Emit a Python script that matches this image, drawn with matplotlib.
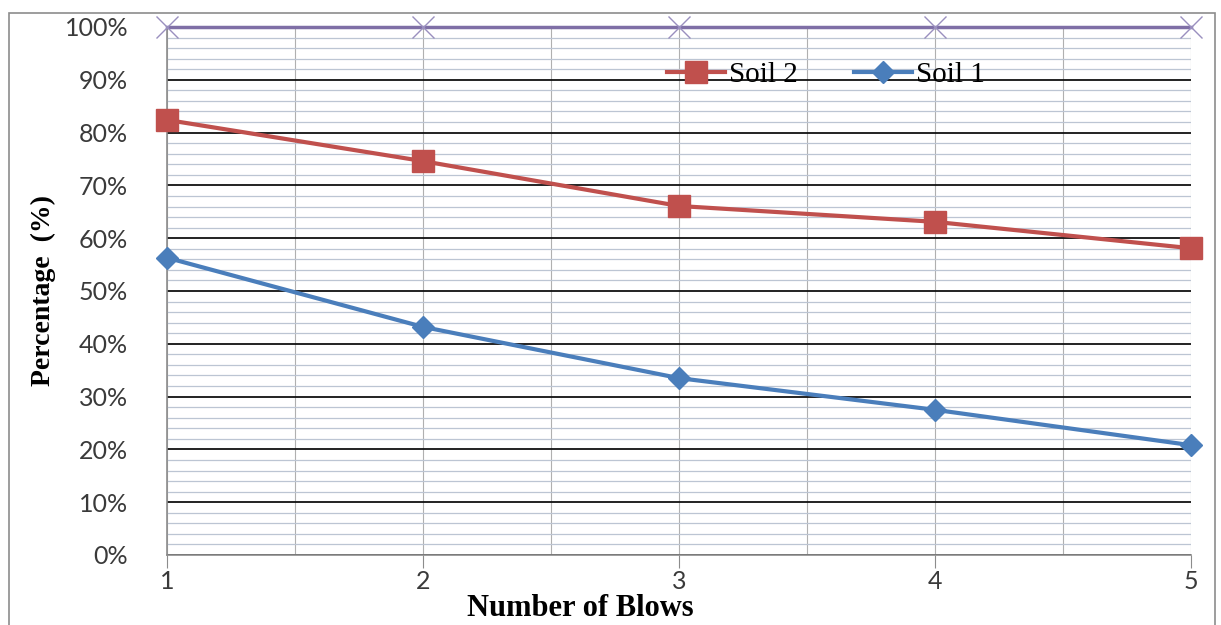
import matplotlib
matplotlib.use("Agg")
import matplotlib.pyplot as plt
from matplotlib.patches import Rectangle
from matplotlib.ticker import MultipleLocator, PercentFormatter

# blows vs percentage for the two soils
blows = [1, 2, 3, 4, 5]
soil2 = [82.4, 74.6, 66.1, 63.1, 58.1]
soil1 = [56.3, 43.2, 33.5, 27.5, 20.8]
total = [100, 100, 100, 100, 100]

fig = plt.figure(figsize=(12.21, 6.25), dpi=100)
ax = fig.add_axes([0.1368, 0.112, 0.9754 - 0.1368, 0.9568 - 0.112])

# outer chart border
fig.patches.append(Rectangle((0.007, -0.05), 0.988, 1.03, transform=fig.transFigure,
                             fill=False, edgecolor="#8c8c8c", linewidth=1.2))

ax.set_xlim(1, 5)
ax.set_ylim(0, 100)

ax.yaxis.set_major_locator(MultipleLocator(10))
ax.yaxis.set_minor_locator(MultipleLocator(2))
ax.xaxis.set_major_locator(MultipleLocator(1))
ax.xaxis.set_minor_locator(MultipleLocator(0.5))
ax.yaxis.set_major_formatter(PercentFormatter(decimals=0))

ax.grid(which="minor", axis="y", color="#bcc5d3", linewidth=0.9)
ax.grid(which="major", axis="y", color="#111111", linewidth=1.3)
ax.grid(which="both", axis="x", color="#b0b0b0", linewidth=0.8)
ax.set_axisbelow(True)

for s in ["top", "right"]:
    ax.spines[s].set_visible(False)
for s in ["left", "bottom"]:
    ax.spines[s].set_color("#8c8c8c")
    ax.spines[s].set_linewidth(1.2)

ax.tick_params(axis="y", which="both", length=0, pad=28, labelsize=18, labelcolor="#3a3a3a")
ax.tick_params(axis="x", which="major", length=9, color="#8c8c8c", pad=2,
               labelsize=18, labelcolor="#3a3a3a")
ax.tick_params(axis="x", which="minor", length=0)
for lab in ax.get_xticklabels() + ax.get_yticklabels():
    lab.set_family("Lato")

ax.plot(blows, total, color="#7f6fa6", linewidth=2.5, marker="x", markersize=16,
        markeredgewidth=1.0, markeredgecolor="#9a8fbf", clip_on=False, zorder=3)
ax.plot(blows, soil2, color="#c0504d", linewidth=3, marker="s", markersize=16,
        clip_on=False, zorder=4, label="Soil 2")
ax.plot(blows, soil1, color="#4a7ebb", linewidth=3, marker="D", markersize=11,
        clip_on=False, zorder=4, label="Soil 1")

ax.legend(loc="upper left", bbox_to_anchor=(0.488, 0.935), ncol=2, frameon=False,
          borderpad=0, borderaxespad=0,
          handlelength=2.0, columnspacing=1.9, handletextpad=0.15,
          prop={"family": "Liberation Serif", "size": 21})

ax.set_ylabel("Percentage  (%)", family="Liberation Serif", fontweight="bold",
              fontsize=20, labelpad=6)
fig.text(0.475, 0.027, "Number of Blows", ha="center", va="center",
         family="Liberation Serif", fontweight="bold", fontsize=22)

fig.savefig("out.png", dpi=100)
